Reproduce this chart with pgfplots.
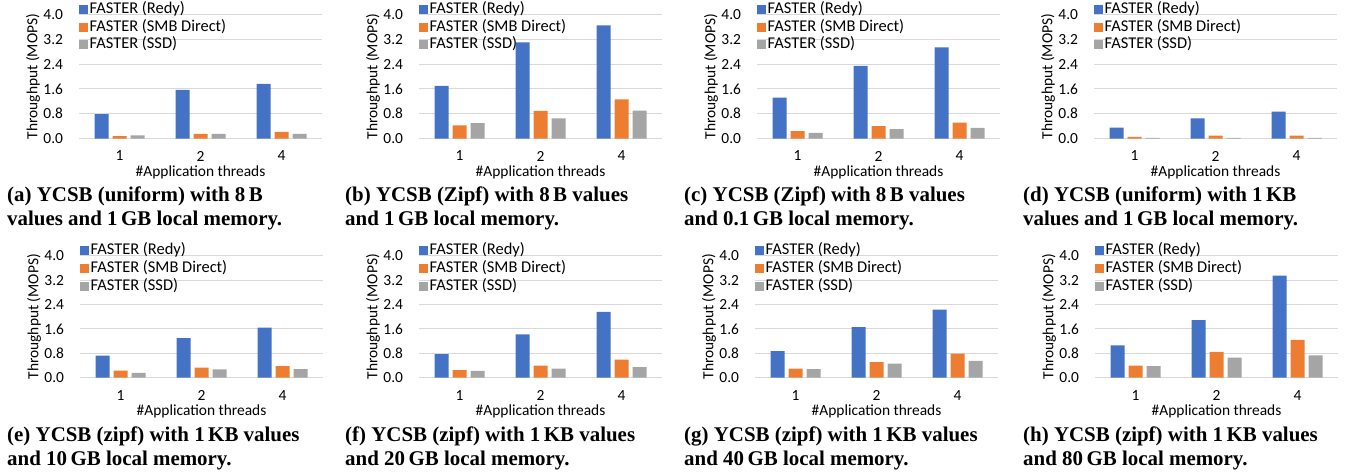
\documentclass[border=0pt]{standalone}
\usepackage{fontspec}
\setmainfont{Carlito}
\newfontfamily\capfont{Liberation Serif}
\usepackage{pgfplots}
\pgfplotsset{compat=1.18}
\definecolor{cA}{HTML}{4472C4}
\definecolor{cB}{HTML}{ED7D31}
\definecolor{cC}{HTML}{A5A5A5}
\definecolor{gridc}{HTML}{D9D9D9}
\newcommand\chartfont{\fontsize{15.5}{17}\selectfont}
\newcommand\legfont{\fontsize{16.5}{18}\selectfont}
\pgfplotsset{
  lgsq/.style={legend image code/.code={\fill[##1] (0bp,-4.5bp) rectangle (9bp,4.5bp);}},
  panel/.style={
    scale only axis, width=243bp, anchor=south west,
    ybar=4bp, bar width=14bp,
    xmin=-0.5, xmax=2.5, ymin=0, ymax=4,
    xtick={0,1,2}, xticklabels={1,2,4},
    ytick={0,0.8,1.6,2.4,3.2,4.0},
    /pgf/number format/assume math mode=true,
    yticklabel style={/pgf/number format/.cd, fixed, fixed zerofill, precision=1},
    ymajorgrids, grid style={draw=gridc, line width=0.9bp},
    axis line style={draw=none},
    major tick length=0pt,
    tick label style={font=\chartfont},
    xticklabel shift=9bp, yticklabel shift=12.5bp,
    xlabel={\#Application threads}, ylabel={Throughput (MOPS)},
    every axis x label/.style={at={(axis description cs:0.5,0)}, yshift=-33.5bp, anchor=center, font=\chartfont},
    every axis y label/.style={at={(axis description cs:0,0.5)}, xshift=-46bp, rotate=90, anchor=center, font=\chartfont},
    legend style={draw=none, fill=none, at={(axis description cs:0,1)}, anchor=north west, yshift=13.5bp,
      inner xsep=0pt, inner ysep=0pt, row sep=1.8bp, font=\legfont,
      nodes={inner ysep=0pt, inner xsep=1.5bp, text height=12bp, text depth=4bp}},
    legend cell align=left,
  }
}
\newcommand\panel[6]{%
  \begin{axis}[panel, at={(#1bp,-#2bp)}, height=#3bp]
    \addplot[fill=cA, draw=none, lgsq] coordinates {#4};
    \addplot[fill=cB, draw=none, lgsq] coordinates {#5};
    \addplot[fill=cC, draw=none, lgsq] coordinates {#6};
    \legend{FASTER (Redy),FASTER (SMB Direct),FASTER (SSD)}
  \end{axis}}
\newcommand\capt[4]{%
  \node[anchor=base west, inner sep=0pt, font=\capfont\bfseries\fontsize{21}{24}\selectfont] at (#1bp,-#2bp) {#3};
  \node[anchor=base west, inner sep=0pt, font=\capfont\bfseries\fontsize{21}{24}\selectfont] at (#1bp,-#2bp-24bp) {#4};}
\begin{document}
\begin{tikzpicture}
\useasboundingbox (0,0) rectangle (1348bp,-476bp);
% row 1
\panel{79}{138.5}{124}{(0,0.79) (1,1.57) (2,1.76)}{(0,0.075) (1,0.15) (2,0.21)}{(0,0.10) (1,0.15) (2,0.15)}
\panel{419}{138.5}{124}{(0,1.70) (1,3.10) (2,3.65)}{(0,0.42) (1,0.89) (2,1.26)}{(0,0.50) (1,0.65) (2,0.90)}
\panel{757}{138.5}{124}{(0,1.32) (1,2.34) (2,2.94)}{(0,0.24) (1,0.40) (2,0.51)}{(0,0.18) (1,0.30) (2,0.34)}
\panel{1094}{138.5}{124}{(0,0.35) (1,0.65) (2,0.87)}{(0,0.05) (1,0.09) (2,0.09)}{(0,0.02) (1,0.02) (2,0.02)}
% row 2
\panel{80}{377.7}{122}{(0,0.72) (1,1.30) (2,1.64)}{(0,0.23) (1,0.33) (2,0.38)}{(0,0.16) (1,0.27) (2,0.28)}
\panel{419}{377.7}{122}{(0,0.77) (1,1.42) (2,2.16)}{(0,0.25) (1,0.40) (2,0.59)}{(0,0.22) (1,0.30) (2,0.35)}
\panel{755}{377.7}{122}{(0,0.87) (1,1.66) (2,2.23)}{(0,0.30) (1,0.51) (2,0.79)}{(0,0.28) (1,0.46) (2,0.55)}
\panel{1095}{377.7}{122}{(0,1.06) (1,1.89) (2,3.35)}{(0,0.40) (1,0.85) (2,1.24)}{(0,0.38) (1,0.66) (2,0.73)}
% captions
\capt{7}{201}{(a) YCSB (uniform) with 8\,B}{values and 1\,GB local memory.}
\capt{345}{201}{(b) YCSB (Zipf) with 8\,B values}{and 1\,GB local memory.}
\capt{684}{201}{(c) YCSB (Zipf) with 8\,B values}{and 0.1\,GB local memory.}
\capt{1023}{201}{(d) YCSB (uniform) with 1\,KB}{values and 1\,GB local memory.}
\capt{7}{441}{(e) YCSB (zipf) with 1\,KB values}{and 10\,GB local memory.}
\capt{345}{441}{(f) YCSB (zipf) with 1\,KB values}{and 20\,GB local memory.}
\capt{684}{441}{(g) YCSB (zipf) with 1\,KB values}{and 40\,GB local memory.}
\capt{1023}{441}{(h) YCSB (zipf) with 1\,KB values}{and 80\,GB local memory.}
\end{tikzpicture}
\end{document}
